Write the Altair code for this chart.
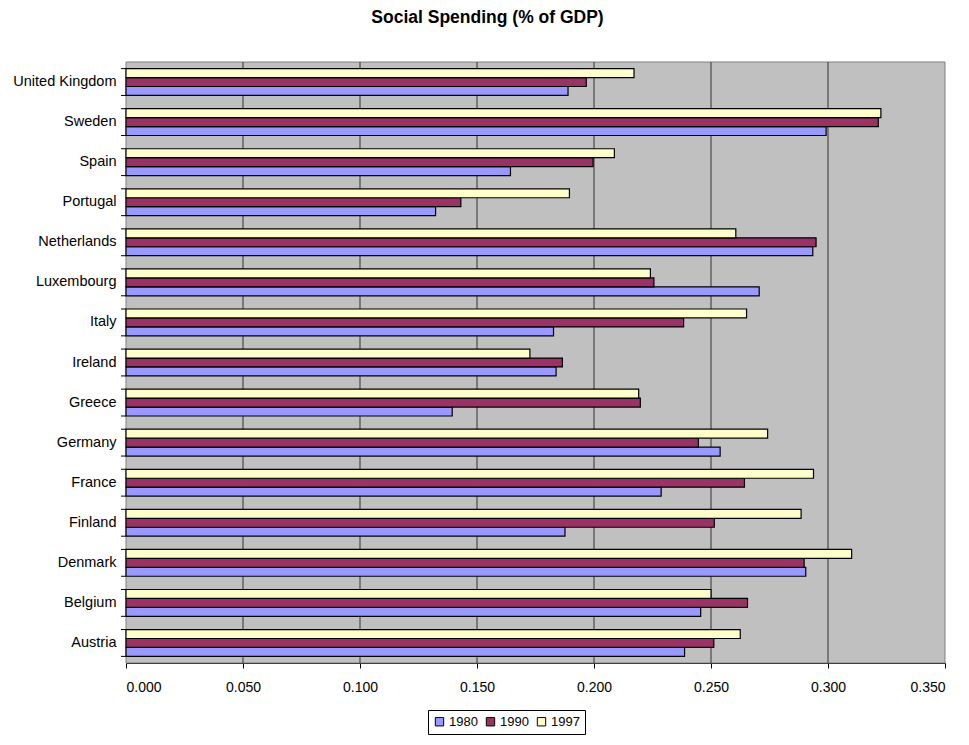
import altair as alt
import pandas as pd

countries = ["Austria", "Belgium", "Denmark", "Finland", "France", "Germany", "Greece",
             "Ireland", "Italy", "Luxembourg", "Netherlands", "Portugal", "Spain",
             "Sweden", "United Kingdom"]
years = ["1980", "1990", "1997"]
v1980 = [0.2387, 0.2456, 0.2905, 0.1876, 0.2287, 0.2539, 0.1394, 0.1838, 0.1827,
         0.2706, 0.2935, 0.1323, 0.1643, 0.2992, 0.1889]
v1990 = [0.2512, 0.2656, 0.2898, 0.2514, 0.2643, 0.2446, 0.2198, 0.1865, 0.2383,
         0.2256, 0.2949, 0.1431, 0.1996, 0.3215, 0.1967]
v1997 = [0.2625, 0.2500, 0.3101, 0.2885, 0.2938, 0.2742, 0.2191, 0.1726, 0.2652,
         0.2241, 0.2606, 0.1895, 0.2087, 0.3226, 0.2171]
colors = ["#9999FF", "#993366", "#FFFFCC"]
x_ticks = [0.0, 0.05, 0.10, 0.15, 0.20, 0.25, 0.30, 0.35]

rows = []
for yr, vals in zip(years, [v1980, v1990, v1997]):
    for c, v in zip(countries, vals):
        rows.append({"country": c, "year": yr, "value": v})
df = pd.DataFrame(rows)
cdf = pd.DataFrame({"country": countries})
gdf = pd.DataFrame({"g": x_ticks[1:-1]})

y_order = list(reversed(countries))
yscale = alt.Scale(domain=y_order, paddingInner=0.33, paddingOuter=0.165)
xscale = alt.Scale(domain=[0, 0.35], nice=False, zero=True)
FONT = "Liberation Sans"

plot_bg = alt.Chart(pd.DataFrame({"k": [0]})).mark_rect(
    fill="#C0C0C0", stroke="#808080", strokeWidth=1).encode(
    x=alt.value(0), x2=alt.value(819), y=alt.value(0), y2=alt.value(601))

grid = alt.Chart(gdf).mark_rule(color="#333333", strokeWidth=1).encode(
    x=alt.X("g:Q", scale=xscale), y=alt.value(0), y2=alt.value(601))

bars = alt.Chart(df).mark_bar(stroke="black", strokeWidth=1.2).encode(
    x=alt.X("value:Q", scale=xscale,
            axis=alt.Axis(values=x_ticks, format=".3f", title=None, grid=False,
                          domainColor="black", tickColor="black", tickSize=5,
                          labelPadding=12, labelFontSize=14, labelFont=FONT,
                          labelColor="black")),
    y=alt.Y("country:N", scale=yscale, sort=y_order,
            axis=alt.Axis(title=None, ticks=False, domainColor="black",
                          labelPadding=10, labelFontSize=14.5, labelFont=FONT,
                          labelColor="black")),
    yOffset=alt.YOffset("year:N", sort=["1997", "1990", "1980"]),
    color=alt.Color("year:N", scale=alt.Scale(domain=years, range=colors),
                    legend=alt.Legend(title=None, orient="none", legendX=302, legendY=648,
                                      direction="horizontal", symbolType="square",
                                      symbolSize=70, symbolStrokeColor="black",
                                      symbolStrokeWidth=1, labelFontSize=13,
                                      labelFont=FONT, labelColor="black",
                                      strokeColor="black", fillColor="white",
                                      padding=5, columnPadding=6, labelOffset=3)),
)

ticks_top = alt.Chart(cdf).mark_rule(color="black", strokeWidth=1).encode(
    y=alt.Y("country:N", scale=yscale, sort=y_order, bandPosition=0),
    x=alt.value(-5), x2=alt.value(0))
ticks_bot = alt.Chart(cdf).mark_rule(color="black", strokeWidth=1).encode(
    y=alt.Y("country:N", scale=yscale, sort=y_order, bandPosition=1),
    x=alt.value(-5), x2=alt.value(0))

chart = alt.layer(plot_bg, grid, bars, ticks_top, ticks_bot).properties(
    width=819, height=601,
    background="white",
    title=alt.TitleParams("Social Spending (% of GDP)", font=FONT, fontSize=17.5,
                          fontWeight="bold", anchor="middle", dx=-48, offset=35,
                          color="black"),
    autosize=alt.AutoSizeParams(type="none"),
    padding={"left": 118, "top": 54, "right": 16, "bottom": 73},
).configure_axis(zindex=1).configure_view(stroke=None)

chart.save("out.html", embed_options={"renderer": "svg", "actions": False})
